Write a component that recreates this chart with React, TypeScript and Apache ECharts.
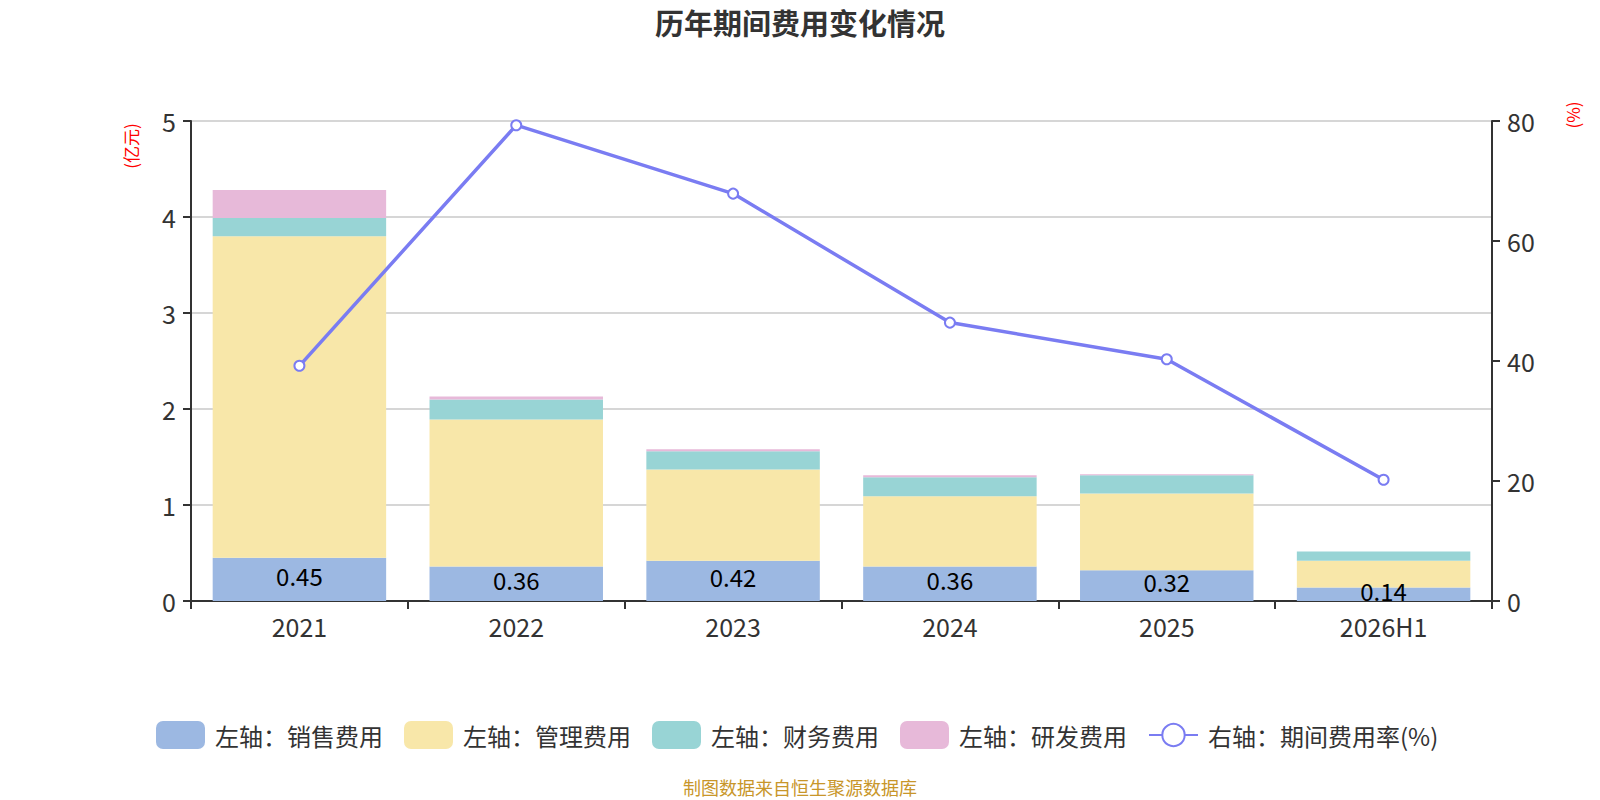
import React, { useEffect, useRef } from "react";
import * as echarts from "echarts";

const categories = ["2021", "2022", "2023", "2024", "2025", "2026H1"];
const salesExp = [0.45, 0.36, 0.42, 0.36, 0.32, 0.14];
const mgmtExp = [3.35, 1.53, 0.95, 0.73, 0.8, 0.28];
const finExp = [0.19, 0.21, 0.19, 0.2, 0.19, 0.095];
const rdExp = [0.29, 0.03, 0.02, 0.02, 0.01, 0];
const expenseRate = [39.2, 79.3, 67.9, 46.4, 40.3, 20.2];

const FONT = "'Noto Sans CJK SC', 'Noto Sans', sans-serif";

export default function App() {
  const ref = useRef<HTMLDivElement>(null);
  useEffect(() => {
    if (!ref.current) return;
    const chart = echarts.init(ref.current, undefined, { renderer: "svg" });
    const barCommon = {
      type: "bar",
      stack: "total",
      barWidth: "80%",
      yAxisIndex: 0,
    };
    chart.setOption({
      animation: false,
      textStyle: { fontFamily: FONT },
      title: {
        text: "历年期间费用变化情况",
        left: "center",
        top: 2,
        textStyle: { fontSize: 29, fontWeight: "bold", color: "#333", fontFamily: FONT },
      },
      grid: { left: 191, right: 108, top: 121, bottom: 199 },
      legend: {
        top: 716,
        left: 151,
        itemWidth: 49,
        itemHeight: 28,
        itemGap: 21,
        textStyle: { fontSize: 24, color: "#333", fontFamily: FONT, padding: [0, 0, 0, 5] },
        data: [
          { name: "左轴：销售费用", icon: "roundRect" },
          { name: "左轴：管理费用", icon: "roundRect" },
          { name: "左轴：财务费用", icon: "roundRect" },
          { name: "左轴：研发费用", icon: "roundRect" },
          { name: "右轴：期间费用率(%)" },
        ],
      },
      xAxis: {
        type: "category",
        data: categories,
        axisLine: { lineStyle: { color: "#333", width: 2 } },
        axisTick: { show: true, length: 8, lineStyle: { color: "#333", width: 2 } },
        axisLabel: { fontSize: 25, color: "#333", margin: 13, lineHeight: 24 },
      },
      yAxis: [
        {
          type: "value",
          min: 0,
          max: 5,
          interval: 1,
          axisLine: { show: true, lineStyle: { color: "#333", width: 2 } },
          axisTick: { show: true, length: 8, lineStyle: { color: "#333", width: 2 } },
          axisLabel: { fontSize: 25, color: "#333", margin: 15 },
          splitLine: { lineStyle: { color: "#c8c8c8", width: 1.5 } },
        },
        {
          type: "value",
          min: 0,
          max: 80,
          interval: 20,
          axisLine: { show: true, lineStyle: { color: "#333", width: 2 } },
          axisTick: { show: true, length: 8, lineStyle: { color: "#333", width: 2 } },
          axisLabel: { fontSize: 25, color: "#333", margin: 15 },
          splitLine: { show: false },
        },
      ],
      graphic: [
        {
          type: "text",
          x: 130,
          y: 146,
          rotation: Math.PI / 2,
          style: {
            text: "(亿元)",
            fill: "#ff0000",
            fontSize: 17,
            fontFamily: FONT,
            align: "center",
            verticalAlign: "middle",
          },
        },
        {
          type: "text",
          x: 1572,
          y: 115,
          rotation: Math.PI / 2,
          style: {
            text: "(%)",
            fill: "#ff0000",
            fontSize: 17,
            fontFamily: FONT,
            align: "center",
            verticalAlign: "middle",
          },
        },
        {
          type: "text",
          left: "center",
          top: 778,
          style: {
            text: "制图数据来自恒生聚源数据库",
            fill: "#c8962a",
            fontSize: 18,
            fontFamily: FONT,
          },
        },
      ],
      series: [
        {
          ...barCommon,
          name: "左轴：销售费用",
          data: salesExp,
          itemStyle: { color: "#9cb8e2" },
          label: {
            show: true,
            position: "inside",
            offset: [0, -4],
            fontSize: 24,
            lineHeight: 18,
            color: "#000",
            fontFamily: FONT,
          },
        },
        { ...barCommon, name: "左轴：管理费用", data: mgmtExp, itemStyle: { color: "#f8e7a9" } },
        { ...barCommon, name: "左轴：财务费用", data: finExp, itemStyle: { color: "#98d4d5" } },
        { ...barCommon, name: "左轴：研发费用", data: rdExp, itemStyle: { color: "#e7b9d9" } },
        {
          type: "line",
          name: "右轴：期间费用率(%)",
          yAxisIndex: 1,
          data: expenseRate,
          symbol: "emptyCircle",
          symbolSize: 10,
          lineStyle: { color: "#7a7cf2", width: 3.5 },
          itemStyle: { color: "#7a7cf2", borderWidth: 2 },
        },
      ],
    });
    return () => chart.dispose();
  }, []);
  return (
    <div
      ref={ref}
      style={{ position: "absolute", left: 0, top: 0, width: 1600, height: 800 }}
    />
  );
}
